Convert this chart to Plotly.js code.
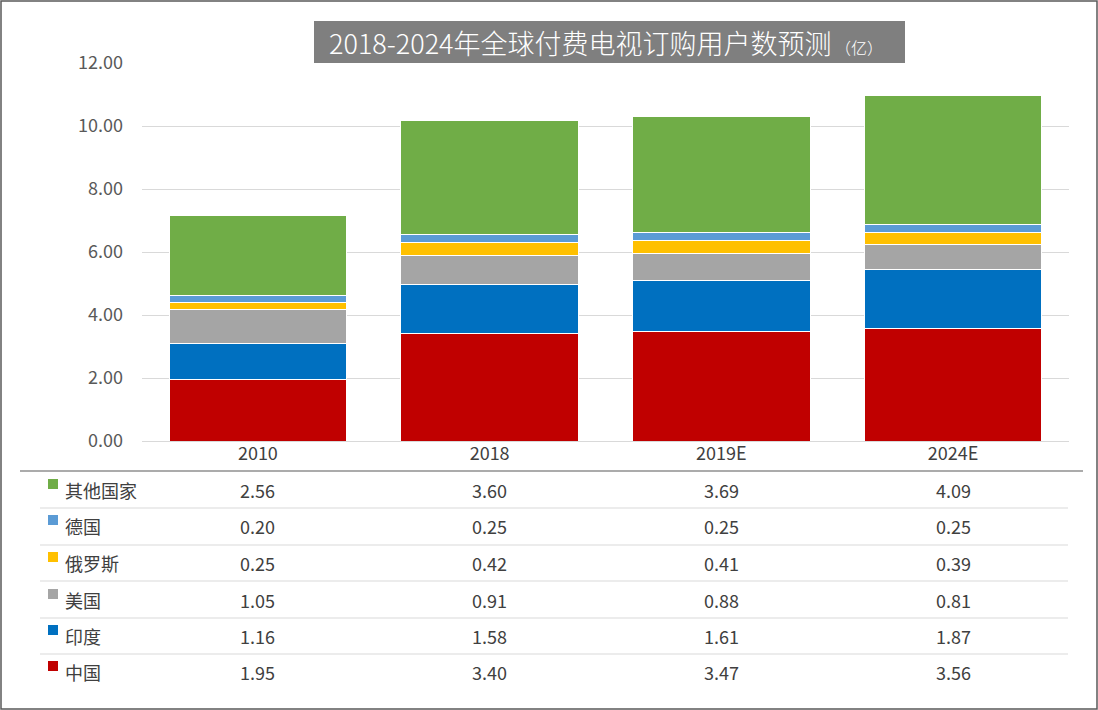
<!DOCTYPE html>
<html>
<head>
<meta charset="utf-8">
<script src="https://cdn.plot.ly/plotly-3.0.1.min.js"></script>
<style>
  html, body { margin: 0; padding: 0; background: #fff; }
  #chart { width: 1098px; height: 710px; }
</style>
</head>
<body>
<div id="chart"></div>
<script>
// data (亿户)
const years = ['2010', '2018', '2019E', '2024E'];
const china = [1.95, 3.40, 3.47, 3.56];
const india = [1.16, 1.58, 1.61, 1.87];
const usa = [1.05, 0.91, 0.88, 0.81];
const russia = [0.25, 0.42, 0.41, 0.39];
const germany = [0.20, 0.25, 0.25, 0.25];
const others = [2.56, 3.60, 3.69, 4.09];
const yTicks = [0, 2, 4, 6, 8, 10, 12];

// stack order bottom -> top
const series = [
  { name: '中国', values: china, color: '#C00000' },
  { name: '印度', values: india, color: '#0070C0' },
  { name: '美国', values: usa, color: '#A5A5A5' },
  { name: '俄罗斯', values: russia, color: '#FFC000' },
  { name: '德国', values: germany, color: '#5B9BD5' },
  { name: '其他国家', values: others, color: '#70AD47' }
];

const W = 1098, H = 710;
const L = 142, R = 1069, T = 63, B = 441;
const font = '"Noto Sans CJK SC", "Noto Sans", sans-serif';

// pixel -> paper helpers
const px = x => (x - L) / (R - L);
const py = y => (B - y) / (B - T);

let data = series.map(s => ({
  type: 'bar',
  x: years,
  y: s.values,
  name: s.name,
  marker: { color: s.color, line: { color: '#ffffff', width: 1 } },
  hoverinfo: 'x+y+name'
}));

let shapes = [];
let annotations = [];

// chart border
shapes.push({ type: 'rect', xref: 'paper', yref: 'paper',
  x0: px(1), x1: px(1097), y0: py(709), y1: py(1),
  line: { color: '#595959', width: 1.5 } });

// title box
shapes.push({ type: 'rect', xref: 'paper', yref: 'paper', layer: 'above',
  x0: px(314), x1: px(905), y0: py(63), y1: py(21),
  fillcolor: '#7F7F7F', line: { width: 0 } });
annotations.push({ xref: 'paper', yref: 'paper', x: px(606), y: py(43),
  xanchor: 'center', yanchor: 'middle', showarrow: false,
  text: '2018-2024年全球付费电视订购用户数预测<span style="font-size:16px"> （亿）</span>',
  font: { family: font, size: 27, color: '#ffffff', weight: 300 } });

// data table
shapes.push({ type: 'line', xref: 'paper', yref: 'paper',
  x0: px(20), x1: px(1083), y0: py(471), y1: py(471),
  line: { color: '#595959', width: 1.2 } });
const rowY = [490, 526, 563, 600, 636, 672];
const sepY = [508, 545, 581, 618, 654];
sepY.forEach(y => shapes.push({ type: 'line', xref: 'paper', yref: 'paper',
  x0: px(40), x1: px(1068), y0: py(y), y1: py(y),
  line: { color: '#D9D9D9', width: 1 } }));

series.slice().reverse().forEach((s, r) => {
  const y = rowY[r];
  shapes.push({ type: 'rect', xref: 'paper', yref: 'paper',
    x0: px(48), x1: px(58), y0: py(y - 1), y1: py(y - 11),
    fillcolor: s.color, line: { width: 0 } });
  annotations.push({ xref: 'paper', yref: 'paper', x: px(63), y: py(y),
    xanchor: 'left', yanchor: 'middle', showarrow: false, text: s.name,
    font: { family: font, size: 18, color: '#404040' } });
  s.values.forEach((v, i) => annotations.push({ xref: 'x', yref: 'paper',
    x: i, y: py(y), xanchor: 'center', yanchor: 'middle', showarrow: false,
    text: v.toFixed(2), font: { family: font, size: 18, color: '#404040' } }));
});

let layout = {
  width: W, height: H,
  margin: { l: L, r: W - R, t: T, b: H - B, pad: 0 },
  paper_bgcolor: '#ffffff',
  plot_bgcolor: '#ffffff',
  barmode: 'stack',
  bargap: 0.235,
  showlegend: false,
  font: { family: font, color: '#404040' },
  xaxis: {
    type: 'category',
    range: [-0.5, years.length - 0.5],
    showgrid: false,
    showline: false,
    zeroline: false,
    ticks: '',
    tickfont: { family: font, size: 18, color: '#404040' },
    fixedrange: true
  },
  yaxis: {
    range: [0, 12],
    tickvals: yTicks,
    tickformat: '.2f',
    showgrid: true,
    gridcolor: '#D9D9D9',
    gridwidth: 1,
    zeroline: true,
    zerolinecolor: '#D9D9D9',
    showline: false,
    ticks: '',
    ticklabelstandoff: 18,
    tickfont: { family: font, size: 18, color: '#595959' },
    fixedrange: true
  },
  shapes: shapes,
  annotations: annotations
};

Plotly.newPlot('chart', data, layout, { displayModeBar: false, staticPlot: true });
</script>
</body>
</html>
